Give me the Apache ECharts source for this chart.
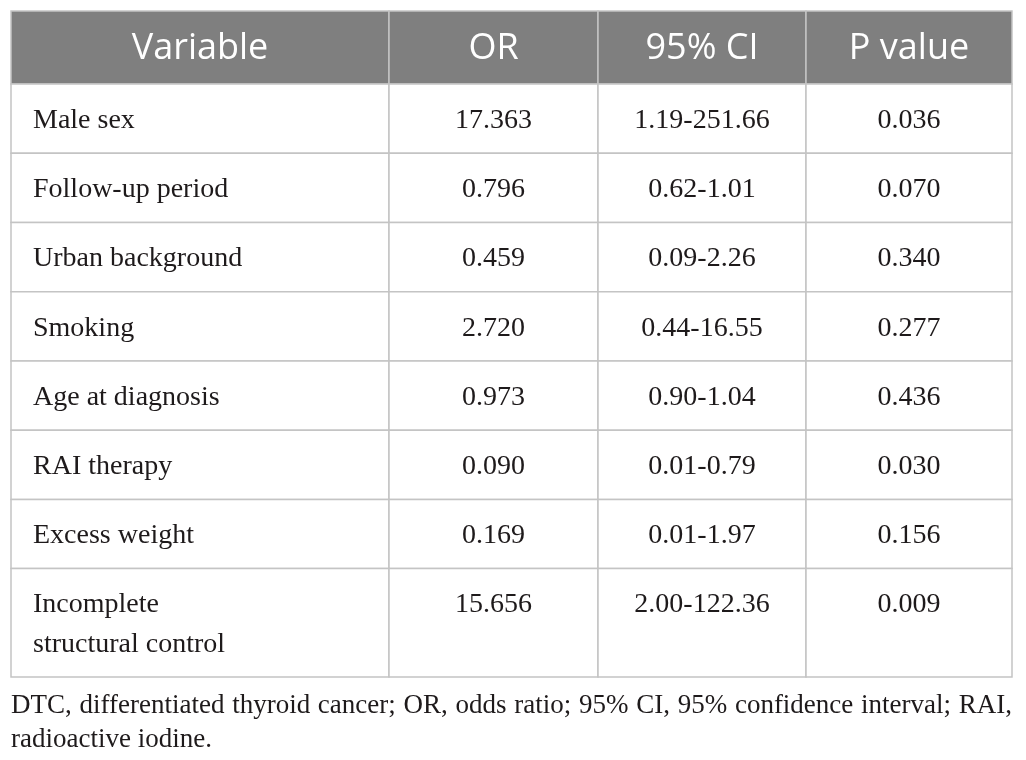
<!DOCTYPE html>
<html>
<head>
<meta charset="utf-8">
<script src="https://cdn.jsdelivr.net/npm/echarts@6/dist/echarts.min.js"></script>
<style>
  html, body { margin: 0; padding: 0; background: #fff; }
  #main { width: 1026px; height: 760px; }
</style>
</head>
<body>
<div id="main"></div>
<script>
const headers = ['Variable', 'OR', '95% CI', 'P value'];
const variables = ['Male sex', 'Follow-up period', 'Urban background', 'Smoking',
    'Age at diagnosis', 'RAI therapy', 'Excess weight', 'Incomplete\nstructural control'];
const orValues = ['17.363', '0.796', '0.459', '2.720', '0.973', '0.090', '0.169', '15.656'];
const ciValues = ['1.19-251.66', '0.62-1.01', '0.09-2.26', '0.44-16.55', '0.90-1.04',
    '0.01-0.79', '0.01-1.97', '2.00-122.36'];
const pValues = ['0.036', '0.070', '0.340', '0.277', '0.436', '0.030', '0.156', '0.009'];
const footnoteLines = [
    'DTC, differentiated thyroid cancer; OR, odds ratio; 95% CI, 95% confidence interval; RAI,',
    'radioactive iodine.'
];

// границы колонок и строк в единицах осей
const colEdges = [0, 378, 587, 795, 1001];
const rowEdges = [0, 73, 142.3, 211.5, 280.7, 350, 419.2, 488.4, 557.6, 666];

const SERIF = '"Liberation Serif", "DejaVu Serif", serif';
const SANS = '"Open Sans", "Noto Sans", sans-serif';
const LINE = '#c4c4c4';

const rows = [headers].concat(variables.map((v, i) => [v, orValues[i], ciValues[i], pValues[i]]));

var chart = echarts.init(document.getElementById('main'), null, { renderer: 'canvas' });

function renderRow(params, api) {
    const r = api.value(0);
    const isHead = r === 0;
    const isTall = r === rows.length - 1;
    const children = [];
    for (let c = 0; c < 4; c++) {
        const p0 = api.coord([colEdges[c], rowEdges[r]]);
        const p1 = api.coord([colEdges[c + 1], rowEdges[r + 1]]);
        const x = p0[0], y = p0[1], w = p1[0] - p0[0], h = p1[1] - p0[1];
        children.push({
            type: 'rect',
            shape: { x: x, y: y, width: w, height: h },
            style: { fill: isHead ? '#7f7f7f' : '#fff', stroke: LINE, lineWidth: 1.5 }
        });
        const left = c === 0 && !isHead;
        children.push({
            type: 'text',
            x: left ? x + 22 : x + w / 2,
            y: isHead ? y + h / 2 + 1 : (isTall ? y + 16 : y + h / 2 + 2),
            style: {
                text: rows[r][c],
                fill: isHead ? '#fff' : '#1e1a1b',
                font: isHead ? '36px ' + SANS : '28px ' + SERIF,
                align: left ? 'left' : 'center',
                verticalAlign: isTall ? 'top' : 'middle',
                lineHeight: 40
            }
        });
    }
    return { type: 'group', children: children };
}

// подстрочное примечание — первая строка выровнена по ширине таблицы
function footnoteGraphics() {
    const ctx = document.createElement('canvas').getContext('2d');
    const font = '27px ' + SERIF;
    ctx.font = font;
    const out = [];
    const x0 = 11, x1 = 1012;
    const ys = [706, 740];
    footnoteLines.forEach((line, li) => {
        const words = line.split(' ');
        const widths = words.map(w => ctx.measureText(w).width);
        const total = widths.reduce((a, b) => a + b, 0);
        const justify = li < footnoteLines.length - 1;
        const gap = justify ? (x1 - x0 - total) / (words.length - 1) : ctx.measureText(' ').width;
        let x = x0;
        words.forEach((w, i) => {
            out.push({
                type: 'text', x: x, y: ys[li],
                style: { text: w, font: font, fill: '#1e1a1b', verticalAlign: 'middle', align: 'left' }
            });
            x += widths[i] + gap;
        });
    });
    return out;
}

var option = {
    backgroundColor: '#fff',
    animation: false,
    grid: { left: 11, right: 14, top: 11, bottom: 83 },
    xAxis: { type: 'value', min: 0, max: 1001, show: false },
    yAxis: { type: 'value', min: 0, max: 666, inverse: true, show: false },
    series: [{
        type: 'custom',
        renderItem: renderRow,
        data: rows.map((row, i) => [i]),
        silent: true
    }],
    graphic: footnoteGraphics()
};

chart.setOption(option);
</script>
</body>
</html>
